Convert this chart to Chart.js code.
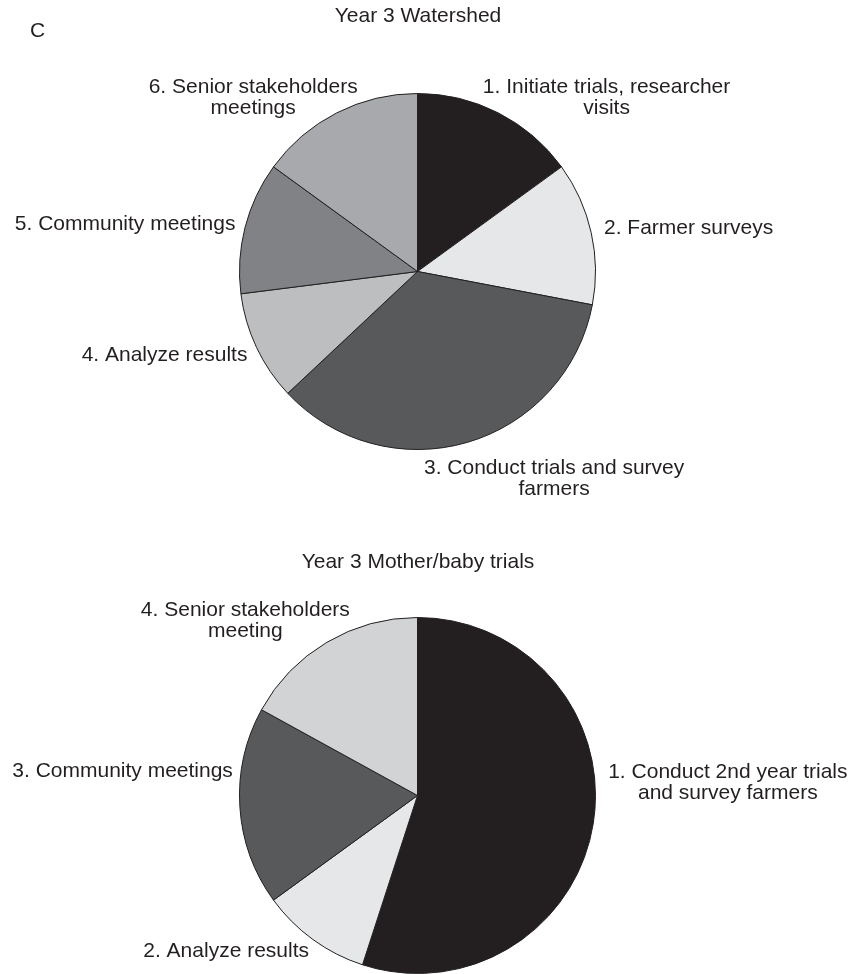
<!DOCTYPE html>
<html>
<head>
<meta charset="utf-8">
<script src="https://cdn.jsdelivr.net/npm/chart.js@4/dist/chart.umd.min.js"></script>
<style>
  html, body { margin: 0; padding: 0; background: #fff; overflow: hidden; }
  #wrap { position: relative; width: 853px; height: 974px; }
  canvas { position: absolute; left: 0; }
</style>
</head>
<body>
<div id="wrap">
  <canvas id="watershed" width="853" height="520" style="top:0"></canvas>
  <canvas id="mother" width="853" height="470" style="top:520px"></canvas>
</div>
<script>
const waterTitle = 'Year 3 Watershed';
const waterLabels = [
  ['1. Initiate trials, researcher', 'visits'],
  ['2. Farmer surveys'],
  ['3. Conduct trials and survey', 'farmers'],
  ['4. Analyze results'],
  ['5. Community meetings'],
  ['6. Senior stakeholders', 'meetings']
];
const waterValues = [15, 13, 35, 10, 12, 15];

const motherTitle = 'Year 3 Mother/baby trials';
const motherLabels = [
  ['1. Conduct 2nd year trials', 'and survey farmers'],
  ['2. Analyze results'],
  ['3. Community meetings'],
  ['4. Senior stakeholders', 'meeting']
];
const motherValues = [55, 10, 18, 17];

const ink = '#231f20';
const font = '21px "Liberation Sans", Arial, sans-serif';

// draws the outside labels from each arc's mid angle, plus the titles
const outsideLabels = {
  id: 'outsideLabels',
  afterDraw(chart, args, opts) {
    const ctx = chart.ctx;
    const arcs = chart.getDatasetMeta(0).data;
    const labels = chart.data.labels;
    ctx.save();
    ctx.font = font;
    ctx.fillStyle = ink;
    ctx.textBaseline = 'middle';
    const lh = 21;

    arcs.forEach((arc, i) => {
      const p = opts.place[i];
      const mid = (arc.startAngle + arc.endAngle) / 2;
      const r = arc.outerRadius + 10;
      const ax = arc.x + Math.cos(mid) * r + p.dx;
      const ay = arc.y + Math.sin(mid) * r + p.dy;
      const lines = labels[i];
      const w = Math.max(...lines.map(l => ctx.measureText(l).width));
      let cx = ax;
      if (p.align === 'left') cx = ax + w / 2;
      if (p.align === 'right') cx = ax - w / 2;
      ctx.textAlign = 'center';
      const y0 = ay - (lines.length - 1) * lh / 2;
      lines.forEach((l, k) => ctx.fillText(l, cx, y0 + k * lh));
    });

    ctx.textAlign = 'center';
    ctx.fillText(opts.title, opts.titleX, opts.titleY);
    if (opts.tag) {
      ctx.textAlign = 'left';
      ctx.fillText(opts.tag, 30, 31);
    }
    ctx.restore();
  }
};

function makePie(id, labels, values, colors, pad, place, title, titleY, tag) {
  return new Chart(document.getElementById(id), {
    type: 'pie',
    data: {
      labels: labels,
      datasets: [{
        data: values,
        backgroundColor: colors,
        borderColor: ink,
        borderWidth: 1
      }]
    },
    options: {
      responsive: false,
      animation: false,
      layout: { padding: pad },
      plugins: {
        legend: { display: false },
        tooltip: { enabled: false },
        outsideLabels: { place: place, title: title, titleX: 418, titleY: titleY, tag: tag }
      }
    },
    plugins: [outsideLabels]
  });
}

makePie('watershed', waterLabels, waterValues,
  ['#231f20', '#e6e7e8', '#58595b', '#bcbec0', '#808285', '#a7a9ac'],
  { left: 239, right: 257, top: 93, bottom: 70 },
  [
    { align: 'left', dx: -20, dy: -6 },
    { align: 'left', dx: 3, dy: -2 },
    { align: 'left', dx: -46, dy: 27 },
    { align: 'right', dx: 0, dy: 4 },
    { align: 'right', dx: 0, dy: -1 },
    { align: 'center', dx: -79, dy: -6 }
  ],
  waterTitle, 16, 'C');

makePie('mother', motherLabels, motherValues,
  ['#231f20', '#e6e7e8', '#58595b', '#d1d3d4'],
  { left: 239, right: 257, top: 97, bottom: 16 },
  [
    { align: 'left', dx: 5, dy: -42 },
    { align: 'right', dx: 2, dy: 4 },
    { align: 'right', dx: 3, dy: -36 },
    { align: 'right', dx: 28, dy: -13 }
  ],
  motherTitle, 42, null);
</script>
</body>
</html>
